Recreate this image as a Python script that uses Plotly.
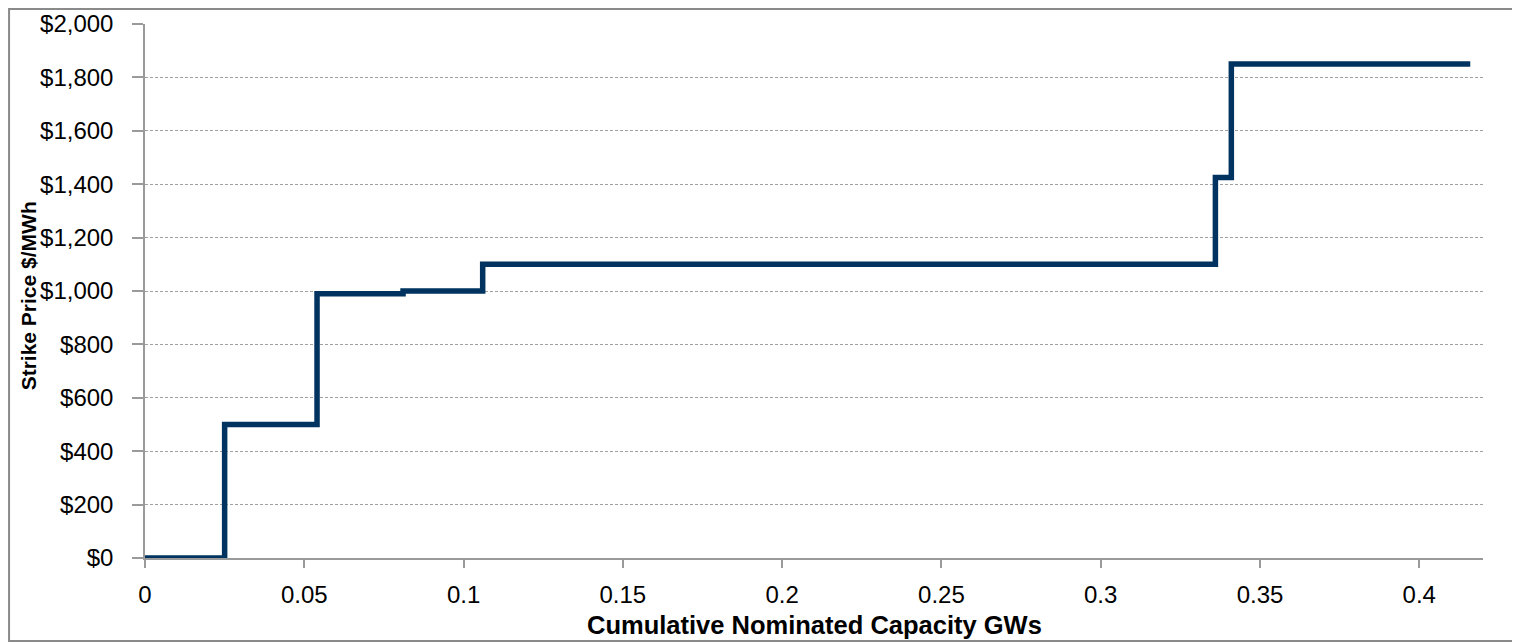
import plotly.graph_objects as go

# step curve: cumulative capacity (GW) vs strike price ($/MWh)
capacity_gw = [0, 0.025, 0.054, 0.081, 0.106, 0.336, 0.341, 0.416]
strike_price = [0, 500, 990, 1000, 1100, 1425, 1850, 1850]

x_ticks = [0, 0.05, 0.1, 0.15, 0.2, 0.25, 0.3, 0.35, 0.4]
x_tick_text = ['0', '0.05', '0.1', '0.15', '0.2', '0.25', '0.3', '0.35', '0.4']

line_color = '#00335f'
axis_grey = '#9a9a9a'
font_main = 'Liberation Sans, Arial, sans-serif'

fig = go.Figure(go.Scatter(
    x=capacity_gw, y=strike_price,
    mode='lines',
    line=dict(color=line_color, width=5.5, shape='hv'),
    showlegend=False,
    hoverinfo='skip'
))

# page body adds ~8px margin, so the figure is sized to fit inside the window
fig.update_layout(
    width=1512, height=635,
    margin=dict(l=137, r=37, t=16, b=85),
    plot_bgcolor='white',
    paper_bgcolor='white',
    font=dict(family=font_main, size=24, color='#000000'),
)

fig.update_xaxes(
    range=[0, 0.42],
    tickvals=x_ticks, ticktext=x_tick_text,
    showgrid=False, zeroline=False,
    showline=True, linecolor=axis_grey, linewidth=1.5,
    ticks='outside', ticklen=8, tickcolor=axis_grey, tickwidth=1.5,
    ticklabelstandoff=6,
    tickfont=dict(size=24),
    automargin=False,
)

fig.update_yaxes(
    range=[0, 2000], dtick=200,
    tickprefix='$', tickformat=',d',
    showgrid=True, gridcolor='#a0a0a0', gridwidth=1, griddash='3px,2px',
    zeroline=False,
    showline=True, linecolor=axis_grey, linewidth=1.5,
    ticks='outside', ticklen=11, tickcolor=axis_grey, tickwidth=1.5,
    ticklabelstandoff=14,
    tickfont=dict(size=24),
    automargin=False,
)

# axis titles (y title sits over the tick labels as in the original)
fig.add_annotation(
    text='Strike Price $/MWh', textangle=-90,
    xref='paper', yref='paper', x=0, y=0.49,
    xanchor='center', yanchor='middle', xshift=-117,
    showarrow=False,
    font=dict(family=font_main, size=21, color='#000000', weight='bold'),
)
fig.add_annotation(
    text='Cumulative Nominated Capacity GWs',
    xref='paper', yref='paper', x=0.5, y=0,
    xanchor='center', yanchor='middle', yshift=-67,
    showarrow=False,
    font=dict(family=font_main, size=25.5, color='#000000', weight='bold'),
)

# outer frame around the whole chart
fig.add_shape(
    type='rect', xref='paper', yref='paper',
    x0=-0.1016, x1=1.0254, y0=-0.1554, y1=1.028,
    line=dict(color='#8a8a8a', width=2), fillcolor='rgba(0,0,0,0)',
    layer='below',
)

fig.write_html("out.html")
